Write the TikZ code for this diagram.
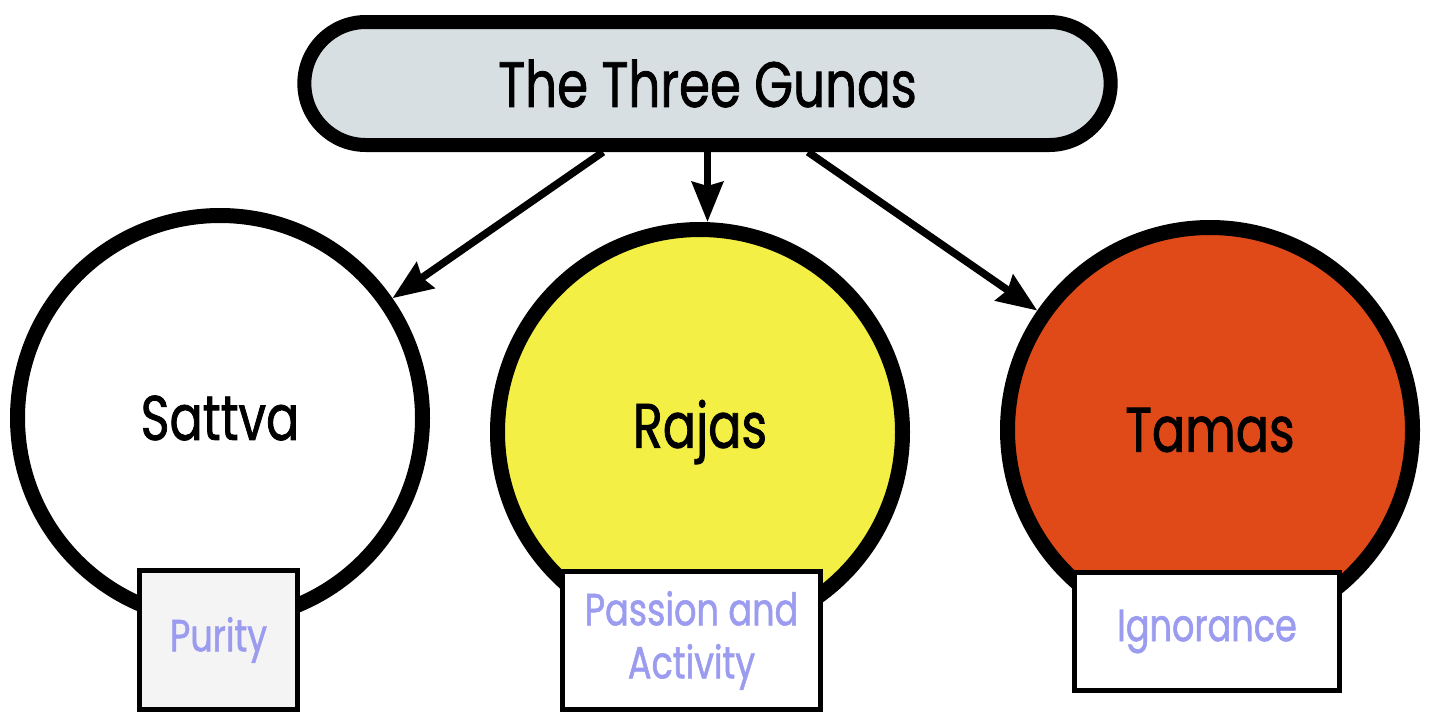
\documentclass[tikz,border=0pt]{standalone}
\usepackage{fontspec}
\setmainfont{Poppins}[FakeStretch=0.78, FakeBold=1.2]
\usetikzlibrary{shapes.misc,arrows.meta}
\definecolor{ovalgray}{RGB}{216,223,226}
\definecolor{rajasyellow}{RGB}{243,239,69}
\definecolor{tamasred}{RGB}{224,74,24}
\definecolor{labelblue}{RGB}{155,155,240}
\definecolor{boxgray}{RGB}{244,244,244}
\begin{document}
\begin{tikzpicture}[x=1pt, y=-1pt,
    guna/.style={circle, draw, line width=15pt, minimum size=405pt, inner sep=0pt, font=\fontsize{63}{70}\selectfont},
    quality/.style={draw, line width=4.5pt, fill=white, text=labelblue, align=center, inner sep=0pt, font=\fontsize{45}{53}\selectfont},
    link/.style={line width=7.5pt, -{Stealth[length=40pt, width=31pt, inset=4pt]}}]
    \clip (0,0) rectangle (1429,713);
    \node[rounded rectangle, draw, line width=14pt, fill=ovalgray, minimum width=813pt, minimum height=123pt, font=\fontsize{64}{70}\selectfont] (gunas) at (707.5,83.5) {The Three Gunas};
    \node[guna, fill=white] (sattva) at (220,418) {Sattva};
    \node[guna, fill=rajasyellow] (rajas) at (700,432) {Rajas};
    \node[guna, fill=tamasred] (tamas) at (1210,430) {Tamas};
    \node[quality, fill=boxgray, minimum width=158pt, minimum height=139pt] (purity) at (218.5,640) {Purity};
    \node[quality, minimum width=258pt, minimum height=138pt] (passion) at (691.5,640.5) {Passion and\\Activity};
    \node[quality, minimum width=265pt, minimum height=118pt] (ignorance) at (1207,631.5) {Ignorance};
    \draw[link] ([xshift=-104.5pt]gunas.south) -- (sattva);
    \draw[link] (gunas.south) -- (gunas.south |- rajas.north);
    \draw[link] ([xshift=100.5pt]gunas.south) -- (tamas);
\end{tikzpicture}
\end{document}
